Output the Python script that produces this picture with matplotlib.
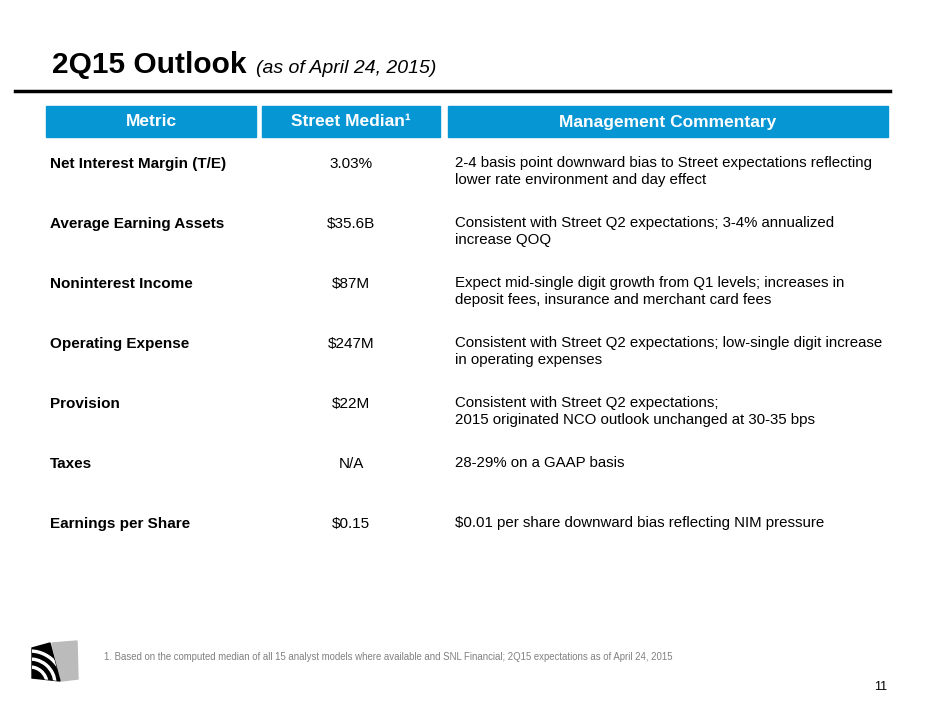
import matplotlib.pyplot as plt
from matplotlib.patches import Rectangle, Wedge, Polygon

plt.rcParams['font.family'] = ['Liberation Sans', 'DejaVu Sans']

metrics = ["Net Interest Margin (T/E)", "Average Earning Assets", "Noninterest Income",
           "Operating Expense", "Provision", "Taxes", "Earnings per Share"]
medians = ["3.03%", "$35.6B", "$87M", "$247M", "$22M", "N/A", "$0.15"]
commentary = [
    "2-4 basis point downward bias to Street expectations reflecting\nlower rate environment and day effect",
    "Consistent with Street Q2 expectations; 3-4% annualized\nincrease QOQ",
    "Expect mid-single digit growth from Q1 levels; increases in\ndeposit fees, insurance and merchant card fees",
    "Consistent with Street Q2 expectations; low-single digit increase\nin operating expenses",
    "Consistent with Street Q2 expectations;\n2015 originated NCO outlook unchanged at 30-35 bps",
    "28-29% on a GAAP basis",
    "$0.01 per share downward bias reflecting NIM pressure",
]
headers = ["Metric", "Street Median¹", "Management Commentary"]

W, H = 940, 705
fig = plt.figure(figsize=(9.4, 7.05), dpi=100)
ax = fig.add_axes([0, 0, 1, 1])
ax.set_xlim(0, W)
ax.set_ylim(H, 0)
ax.axis('off')

ax.text(52, 73, "2Q15 Outlook", fontsize=21.5, fontweight='bold', va='baseline')
ax.text(256, 73, "(as of April 24, 2015)", fontsize=14, style='italic', va='baseline')
ax.plot([15, 890], [91, 91], color='black', lw=2.5)

blue = '#0796D4'
boxes = [(46, 256), (262, 440), (448, 888)]
for (x0, x1), h in zip(boxes, headers):
    ax.add_patch(Rectangle((x0, 106), x1 - x0, 31, color=blue))
    ax.text((x0 + x1) / 2, 122, h, color='white', fontsize=12.5, fontweight='bold',
            ha='center', va='center')

for i, (m, v, c) in enumerate(zip(metrics, medians, commentary)):
    y = 164 + 60 * i
    ax.text(50, y, m, fontsize=11, fontweight='bold', va='center')
    ax.text(351, y, v, fontsize=11, ha='center', va='center')
    ax.text(455, y - 8, c, fontsize=10.8, va='top', linespacing=1.3)

ax.text(104, 657, "1. Based on the computed median of all 15 analyst models where available and SNL Financial; "
        "2Q15 expectations as of April 24, 2015", fontsize=6.9, color='#808080', va='center')
ax.text(887, 687, "11", fontsize=9, ha='right', va='center')

# logo
ax.add_patch(Polygon([[52, 643], [77, 641], [78, 679], [61, 681]], closed=True, color='#BBBBBB'))
blk = Polygon([[32, 648], [50, 643], [60, 681], [32, 678]], closed=True, color='black')
ax.add_patch(blk)
for r in [18, 26, 34]:
    w = Wedge((30, 684), r, 260, 360, width=2, color='white')
    ax.add_patch(w)
    w.set_clip_path(blk)

fig.savefig("out.png", dpi=100)
